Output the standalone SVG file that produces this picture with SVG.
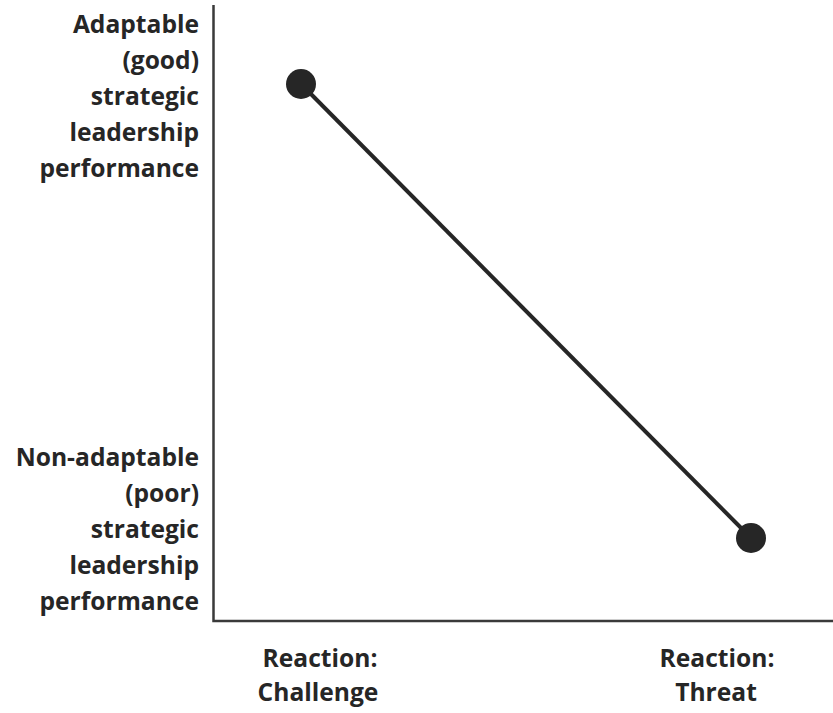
<svg xmlns="http://www.w3.org/2000/svg" width="833" height="713" viewBox="0 0 833 713">
<style>
.lbl{font-family:"Open Sans","Noto Sans","Liberation Sans",sans-serif;font-weight:bold;font-size:24.6px;fill:#262626}
.axis{stroke:#3a3a3a;stroke-width:2.5;fill:none}
.dot{fill:#262626}
</style>
<rect width="833" height="713" fill="#ffffff"/>
<g id="axes">
<path class="axis" d="M213.5,5 V621 H833"/>
</g>
<g id="y-labels">
<text class="lbl" text-anchor="end" x="199" y="33">Adaptable</text>
<text class="lbl" text-anchor="end" x="199" y="69">(good)</text>
<text class="lbl" text-anchor="end" x="199" y="105">strategic</text>
<text class="lbl" text-anchor="end" x="199" y="141">leadership</text>
<text class="lbl" text-anchor="end" x="199" y="177">performance</text>
<text class="lbl" text-anchor="end" x="199" y="466">Non-adaptable</text>
<text class="lbl" text-anchor="end" x="199" y="502">(poor)</text>
<text class="lbl" text-anchor="end" x="199" y="538">strategic</text>
<text class="lbl" text-anchor="end" x="199" y="574">leadership</text>
<text class="lbl" text-anchor="end" x="199" y="610">performance</text>
</g>
<g id="x-labels">
<text class="lbl" text-anchor="middle" x="320" y="667">Reaction:</text>
<text class="lbl" text-anchor="middle" x="318" y="701">Challenge</text>
<text class="lbl" text-anchor="middle" x="717" y="667">Reaction:</text>
<text class="lbl" text-anchor="middle" x="716" y="701">Threat</text>
</g>
<g id="connectors">
<line x1="301" y1="84" x2="751" y2="538" stroke="#262626" stroke-width="4"/>
</g>
<g id="point-challenge"><circle class="dot" cx="301" cy="84" r="15"/></g>
<g id="point-threat"><circle class="dot" cx="751" cy="538" r="15"/></g>
</svg>
